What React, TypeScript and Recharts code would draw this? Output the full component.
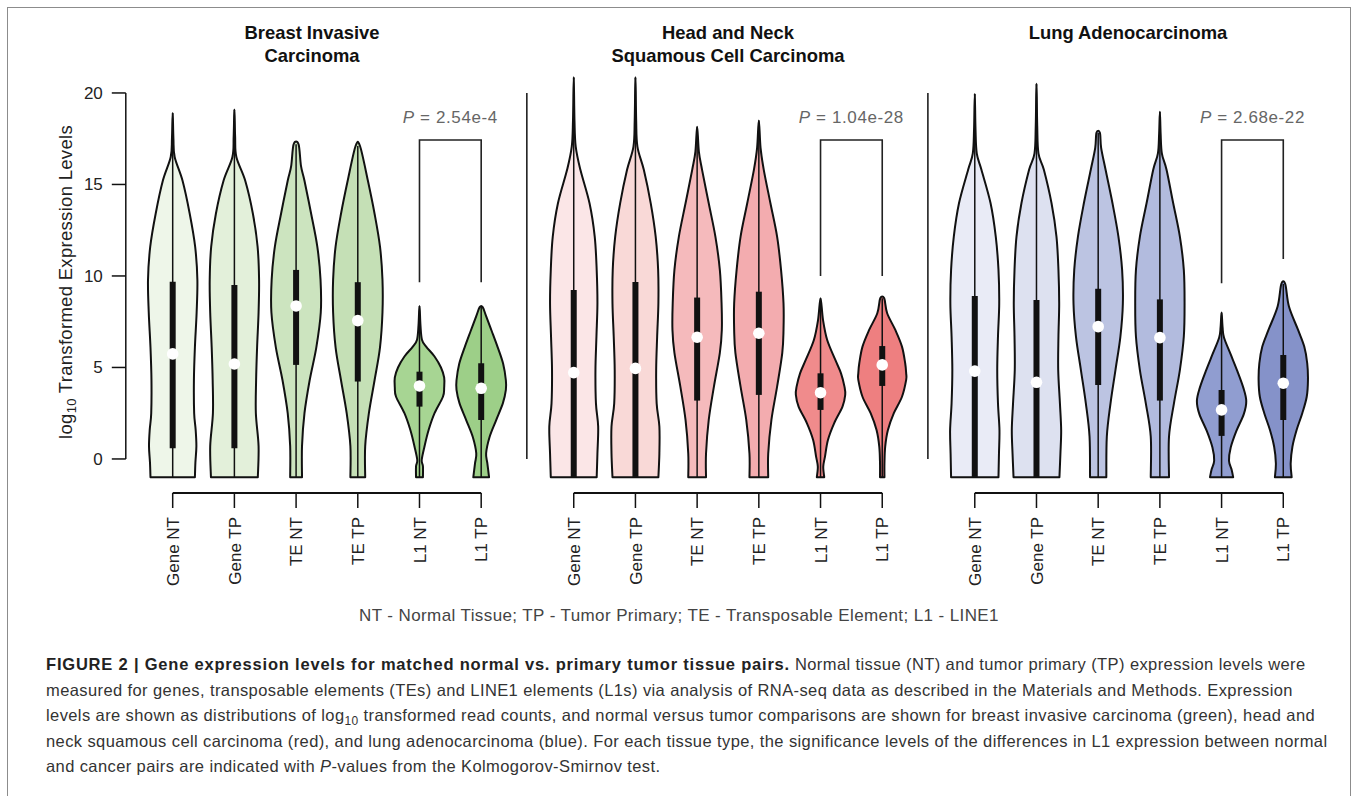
import React from "react";
import { ComposedChart, XAxis, YAxis, Scatter, ReferenceLine, ReferenceDot } from "recharts";

const FONT = "'Liberation Sans', Arial, Helvetica, sans-serif";

const groupLabels = ["Gene NT", "Gene TP", "TE NT", "TE TP", "L1 NT", "L1 TP"];
const yTicks = [0, 5, 10, 15, 20];

// violin outlines: [log10 level, relative density]
const brcaGeneNT = [[-1, 0.9], [-0.2, 0.92], [0.7, 0.96], [1.6, 0.93], [2.5, 0.87], [4.3, 0.86], [6.1, 0.9], [8.0, 0.97], [9.8, 1.0], [11.6, 0.91], [13.4, 0.69], [15.2, 0.4], [16.5, 0.08], [17.5, 0.03], [18.9, 0]];
const brcaGeneTP = [[-1, 0.95], [0.7, 0.98], [2.5, 0.87], [4.3, 0.88], [6.1, 0.92], [8.0, 0.98], [9.8, 1.0], [11.6, 0.94], [13.4, 0.75], [15.2, 0.44], [16.5, 0.08], [17.6, 0.03], [19.1, 0]];
const brcaTENT = [[-1, 0.24], [0.7, 0.24], [2.5, 0.34], [4.3, 0.55], [6.1, 0.82], [8.0, 1.0], [9.8, 0.99], [11.6, 0.86], [13.4, 0.61], [15.2, 0.34], [16.0, 0.2], [17.2, 0.1]];
const brcaTETP = [[-1, 0.3], [0.7, 0.3], [2.5, 0.45], [4.3, 0.68], [6.1, 0.9], [8.0, 1.0], [9.8, 1.0], [11.6, 0.9], [13.4, 0.68], [15.2, 0.41], [17.1, 0.09]];
const brcaL1NT = [[-1, 0.14], [-0.4, 0.14], [-0.06, 0.09], [0.67, 0.2], [1.58, 0.37], [2.5, 0.61], [3.4, 0.95], [3.9, 1.0], [4.45, 1.0], [5.0, 0.87], [5.6, 0.61], [6.14, 0.27], [6.52, 0.1], [7.3, 0.04], [8.36, 0]];
const brcaL1TP = [[-1, 0.32], [-0.24, 0.25], [0.31, 0.2], [1.2, 0.34], [2.1, 0.6], [3.05, 0.88], [3.77, 1.0], [4.3, 1.0], [5.2, 0.89], [6.1, 0.67], [6.98, 0.43], [7.8, 0.2], [8.3, 0.06]];

const hnscGeneNT = [[-1, 0.93], [0.3, 0.96], [1.77, 0.99], [3.04, 0.9], [4.86, 0.88], [6.69, 0.92], [8.5, 0.96], [10.33, 0.93], [12.15, 0.85], [13.97, 0.64], [15.8, 0.27], [17.07, 0.08], [18.5, 0.03], [20.86, 0]];
const hnscGeneTP = [[-1, 0.93], [0.3, 0.97], [1.77, 0.97], [3.04, 0.86], [4.86, 0.84], [6.69, 0.88], [8.5, 0.93], [10.33, 0.92], [12.15, 0.82], [13.97, 0.62], [15.8, 0.34], [17.07, 0.08], [18.5, 0.03], [20.86, 0]];
const hnscTENT = [[-1, 0.36], [0.3, 0.36], [2.13, 0.47], [3.95, 0.68], [5.8, 0.92], [7.05, 1.0], [8.5, 0.99], [10.33, 0.92], [12.15, 0.74], [13.97, 0.47], [15.8, 0.2], [16.8, 0.07], [18.16, 0]];
const hnscTETP = [[-1, 0.38], [0.3, 0.38], [2.13, 0.51], [3.95, 0.74], [5.8, 0.95], [7.05, 1.0], [8.5, 1.0], [10.33, 0.9], [12.15, 0.74], [13.97, 0.47], [15.8, 0.2], [17.0, 0.07], [18.49, 0]];
const hnscL1NT = [[-1, 0.15], [-0.42, 0.11], [0.13, 0.18], [1.04, 0.3], [1.95, 0.55], [2.86, 0.89], [3.5, 1.0], [3.95, 0.97], [4.68, 0.83], [5.41, 0.6], [6.5, 0.27], [7.6, 0.1], [8.78, 0]];
const hnscL1TP = [[-1, 0.09], [-0.24, 0.09], [0.67, 0.12], [1.58, 0.23], [2.5, 0.47], [3.4, 0.8], [4.32, 0.97], [4.68, 0.97], [5.23, 0.93], [6.14, 0.8], [7.05, 0.53], [7.96, 0.2], [8.78, 0.08]];

const luadGeneNT = [[-1, 0.96], [0.3, 0.98], [1.58, 1.0], [3.04, 0.94], [4.86, 0.91], [6.69, 0.94], [8.5, 0.99], [10.33, 0.96], [12.15, 0.85], [13.97, 0.64], [15.8, 0.27], [16.7, 0.08], [18.0, 0.03], [19.95, 0]];
const luadGeneTP = [[-1, 0.93], [0.3, 0.97], [1.58, 1.0], [3.04, 0.95], [4.86, 0.88], [6.69, 0.89], [8.5, 0.92], [10.33, 0.89], [12.15, 0.81], [13.97, 0.61], [15.8, 0.3], [16.7, 0.08], [18.2, 0.03], [20.5, 0]];
const luadTENT = [[-1, 0.33], [1.22, 0.35], [3.04, 0.5], [4.86, 0.7], [6.69, 0.9], [8.5, 1.0], [10.33, 0.97], [12.15, 0.82], [13.97, 0.58], [15.8, 0.3], [17.0, 0.12], [17.83, 0.07]];
const luadTETP = [[-1, 0.37], [1.22, 0.37], [3.04, 0.57], [4.86, 0.81], [6.69, 0.97], [8.5, 1.0], [10.33, 0.97], [12.15, 0.81], [13.97, 0.54], [15.8, 0.27], [16.7, 0.08], [17.8, 0.03], [18.98, 0]];
const luadL1NT = [[-1, 0.47], [-0.6, 0.41], [-0.1, 0.3], [0.62, 0.37], [1.53, 0.6], [2.45, 0.9], [3.17, 1.0], [3.9, 0.88], [4.8, 0.64], [5.71, 0.37], [6.62, 0.1], [7.2, 0.04], [8.0, 0]];
const luadL1TP = [[-1, 0.34], [-0.24, 0.3], [0.67, 0.37], [1.58, 0.54], [2.5, 0.77], [3.4, 0.95], [4.32, 1.0], [5.23, 0.97], [6.14, 0.85], [7.05, 0.6], [8.33, 0.23], [9.56, 0.08]];

// box: lower / upper quartile, median
const brcaQ1 = [0.58, 0.58, 5.14, 4.23, 2.86, 2.13];
const brcaQ3 = [9.69, 9.5, 10.33, 9.66, 4.77, 5.23];
const brcaMed = [5.74, 5.19, 8.36, 7.56, 3.99, 3.86];
const hnscQ1 = [-1, -1, 3.19, 3.5, 2.68, 3.99];
const hnscQ3 = [9.23, 9.67, 8.82, 9.14, 4.68, 6.17];
const hnscMed = [4.72, 4.95, 6.65, 6.87, 3.62, 5.14];
const luadQ1 = [-1, -1, 4.04, 3.19, 1.26, 2.13];
const luadQ3 = [8.91, 8.69, 9.3, 8.72, 3.77, 5.68];
const luadMed = [4.8, 4.19, 7.23, 6.63, 2.68, 4.14];

const brcaFills = ["#eef6e9", "#e3f0da", "#cce4bf", "#c5e0b6", "#a7d593", "#9dcf88"];
const hnscFills = ["#fbe6e7", "#f9d9d7", "#f5babc", "#f3acaf", "#f08b8c", "#ee7f80"];
const luadFills = ["#e9ebf6", "#dde1f0", "#bcc4e2", "#b2bbde", "#909dd0", "#8592c9"];

const titles = [["Breast Invasive", "Carcinoma"], ["Head and Neck", "Squamous Cell Carcinoma"], ["Lung Adenocarcinoma"]];
const titleCenters = [312, 728, 1128];
const pLabels = ["2.54e-4", "1.04e-28", "2.68e-22"];
const bracketTops = [17.43, 17.43, 17.43];
const bracketLeftEnds = [9.66, 10.0, 9.6];
const bracketRightEnds = [9.66, 10.0, 10.93];

const PANEL_STRIDE = 6.5;
const HALF_WIDTH = 0.4;
const AXIS_GAP = 0.76;
const BASE_Y = -1.86;

const panels = [
  { profiles: [brcaGeneNT, brcaGeneTP, brcaTENT, brcaTETP, brcaL1NT, brcaL1TP], q1: brcaQ1, q3: brcaQ3, med: brcaMed, fills: brcaFills },
  { profiles: [hnscGeneNT, hnscGeneTP, hnscTENT, hnscTETP, hnscL1NT, hnscL1TP], q1: hnscQ1, q3: hnscQ3, med: hnscMed, fills: hnscFills },
  { profiles: [luadGeneNT, luadGeneTP, luadTENT, luadTETP, luadL1NT, luadL1TP], q1: luadQ1, q3: luadQ3, med: luadMed, fills: luadFills },
];

const xTicks = panels.flatMap((_, p) => groupLabels.map((__, i) => p * PANEL_STRIDE + i));

function outline(profile: number[][], x0: number) {
  const right = profile.map(([v, d]) => ({ x: x0 + d * HALF_WIDTH, y: v }));
  const rev = profile.slice().reverse();
  const left = rev.filter((pt, k) => !(k === 0 && pt[1] === 0)).map(([v, d]) => ({ x: x0 - d * HALF_WIDTH, y: v }));
  return [...right, ...left];
}

function smoothPath(pts: { x: number; y: number }[]) {
  let d = `M${pts[0].x},${pts[0].y}`;
  for (let i = 0; i < pts.length - 1; i++) {
    const p0 = pts[Math.max(0, i - 1)];
    const p1 = pts[i];
    const p2 = pts[i + 1];
    const p3 = pts[Math.min(pts.length - 1, i + 2)];
    const c1x = p1.x + (p2.x - p0.x) / 6;
    const c1y = p1.y + (p2.y - p0.y) / 6;
    const c2x = p2.x - (p3.x - p1.x) / 6;
    const c2y = p2.y - (p3.y - p1.y) / 6;
    d += ` C${c1x},${c1y} ${c2x},${c2y} ${p2.x},${p2.y}`;
  }
  return d + " Z";
}

// eslint-disable-next-line @typescript-eslint/no-explicit-any
function ViolinPath(props: any) {
  const { points, violinFill } = props;
  if (!points || points.length < 2) return null;
  return <path d={smoothPath(points)} fill={violinFill} stroke="#111" strokeWidth={2} strokeLinejoin="round" />;
}

const NoDot = () => <g />;

// eslint-disable-next-line @typescript-eslint/no-explicit-any
function MedianDot(props: any) {
  return <circle cx={props.cx} cy={props.cy} r={5.8} fill="#fff" />;
}

// eslint-disable-next-line @typescript-eslint/no-explicit-any
function XTick(props: any) {
  const { x, y, payload } = props;
  const idx = xTicks.indexOf(payload.value);
  const label = groupLabels[((idx % 6) + 6) % 6];
  return (
    <text x={x} y={y} transform={`rotate(-90, ${x}, ${y})`} textAnchor="end" dy="0.36em" fontSize={17} fill="#222" fontFamily={FONT}>
      {label}
    </text>
  );
}

function pShape(text: string) {
  // eslint-disable-next-line @typescript-eslint/no-explicit-any
  return (props: any) => (
    <text x={props.cx} y={props.cy} textAnchor="middle" fontSize={17} fill="#666" fontFamily={FONT} letterSpacing={0.6}>
      <tspan fontStyle="italic">P</tspan> = {text}
    </text>
  );
}

export default function App() {
  const medians = panels.flatMap((pn, p) => pn.med.map((m, i) => ({ x: p * PANEL_STRIDE + i, y: m })));
  return (
    <div style={{ position: "absolute", left: 0, top: 0, width: 1358, height: 796, fontFamily: FONT, color: "#222" }}>
      <div style={{ position: "absolute", left: 7, top: 7, width: 1344, height: 800, border: "1.5px solid #8c8c8c", boxSizing: "border-box" }} />

      {titles.map((lines, p) => (
        <div key={p} style={{ position: "absolute", left: titleCenters[p] - 200, width: 400, top: 21, textAlign: "center", fontWeight: "bold", fontSize: 18.4, lineHeight: "23px", color: "#111" }}>
          {lines.map((l) => <div key={l}>{l}</div>)}
        </div>
      ))}

      <div style={{ position: "absolute", left: 67, top: 282, width: 0, height: 0 }}>
        <div style={{ position: "absolute", left: 0, top: 0, whiteSpace: "nowrap", fontSize: 18.5, letterSpacing: "0.3px", transform: "translate(-50%, -50%) rotate(-90deg)" }}>
          log<sub style={{ fontSize: 13 }}>10</sub> Transformed Expression Levels
        </div>
      </div>

      <div style={{ position: "absolute", left: 0, top: 0 }}>
        <ComposedChart width={1358} height={600} margin={{ top: 71, right: 37.7, bottom: 7, left: 65.8 }}>
          <XAxis type="number" dataKey="x" domain={[-AXIS_GAP, 18.6]} ticks={xTicks} interval={0} axisLine={false}
            tickLine={{ stroke: "#111", strokeWidth: 1.5 }} tickSize={15} tickMargin={9} height={100} tick={<XTick />} />
          <YAxis type="number" dataKey="y" domain={[BASE_Y, 21.2]} ticks={yTicks} interval={0} axisLine={false}
            tickLine={{ stroke: "#111", strokeWidth: 1.5 }} tickSize={14} tickMargin={9} width={60}
            tick={{ fontSize: 17, fill: "#222", fontFamily: FONT }} />

          {panels.map((_, p) => (
            <ReferenceLine key={`ax${p}`} segment={[{ x: p * PANEL_STRIDE - AXIS_GAP, y: 0 }, { x: p * PANEL_STRIDE - AXIS_GAP, y: 20 }]}
              stroke="#111" strokeWidth={1.5} ifOverflow="visible" />
          ))}
          {panels.map((_, p) => (
            <ReferenceLine key={`bx${p}`} segment={[{ x: p * PANEL_STRIDE, y: BASE_Y }, { x: p * PANEL_STRIDE + 5, y: BASE_Y }]}
              stroke="#111" strokeWidth={2} ifOverflow="visible" />
          ))}

          {panels.flatMap((pn, p) => pn.profiles.map((prof, i) => (
            <Scatter key={`v${p}-${i}`} data={outline(prof, p * PANEL_STRIDE + i)} isAnimationActive={false}
              line={<ViolinPath violinFill={pn.fills[i]} />} shape={NoDot} />
          )))}
          {panels.flatMap((pn, p) => pn.profiles.map((prof, i) => (
            <Scatter key={`w${p}-${i}`} isAnimationActive={false} shape={NoDot}
              data={[{ x: p * PANEL_STRIDE + i, y: prof[0][0] }, { x: p * PANEL_STRIDE + i, y: prof[prof.length - 1][0] }]}
              line={{ stroke: "#111", strokeWidth: 1.5 }} />
          )))}
          {panels.flatMap((pn, p) => pn.q1.map((q, i) => (
            <Scatter key={`b${p}-${i}`} isAnimationActive={false} shape={NoDot}
              data={[{ x: p * PANEL_STRIDE + i, y: q }, { x: p * PANEL_STRIDE + i, y: pn.q3[i] }]}
              line={{ stroke: "#111", strokeWidth: 6 }} />
          )))}
          <Scatter data={medians} isAnimationActive={false} shape={MedianDot} />

          {pLabels.map((_, p) => (
            <Scatter key={`br${p}`} isAnimationActive={false} shape={NoDot}
              data={[
                { x: p * PANEL_STRIDE + 4, y: bracketLeftEnds[p] },
                { x: p * PANEL_STRIDE + 4, y: bracketTops[p] },
                { x: p * PANEL_STRIDE + 5, y: bracketTops[p] },
                { x: p * PANEL_STRIDE + 5, y: bracketRightEnds[p] },
              ]}
              line={{ stroke: "#222", strokeWidth: 1.6 }} />
          ))}
          {pLabels.map((t, p) => (
            <ReferenceDot key={`p${p}`} x={p * PANEL_STRIDE + 4.5} y={18.36} r={0} ifOverflow="visible" shape={pShape(t)} />
          ))}
        </ComposedChart>
      </div>

      <div style={{ position: "absolute", left: 0, width: 1358, top: 606, textAlign: "center", fontSize: 17, letterSpacing: "0.4px", color: "#444" }}>
        NT - Normal Tissue; TP - Tumor Primary; TE - Transposable Element; L1 - LINE1
      </div>

      <div style={{ position: "absolute", left: 46, top: 652, fontSize: 16.5, lineHeight: "25.5px", color: "#333", whiteSpace: "nowrap", letterSpacing: "0.4px" }}>
        <div><b style={{ color: "#222", letterSpacing: "0.8px" }}>FIGURE 2 | Gene expression levels for matched normal vs. primary tumor tissue pairs.</b> Normal tissue (NT) and tumor primary (TP) expression levels were</div>
        <div>measured for genes, transposable elements (TEs) and LINE1 elements (L1s) via analysis of RNA-seq data as described in the Materials and Methods. Expression</div>
        <div>levels are shown as distributions of log<sub style={{ fontSize: 12, lineHeight: 0 }}>10</sub> transformed read counts, and normal versus tumor comparisons are shown for breast invasive carcinoma (green), head and</div>
        <div>neck squamous cell carcinoma (red), and lung adenocarcinoma (blue). For each tissue type, the significance levels of the differences in L1 expression between normal</div>
        <div>and cancer pairs are indicated with <i>P</i>-values from the Kolmogorov-Smirnov test.</div>
      </div>
    </div>
  );
}
